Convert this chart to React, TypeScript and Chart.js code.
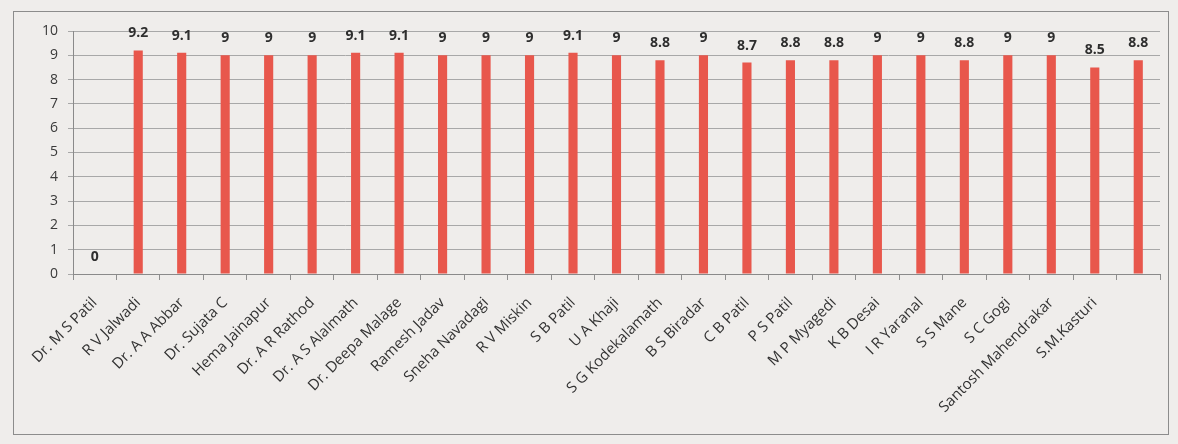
import { useEffect, useRef } from "react";
import { Chart, registerables } from "chart.js";

Chart.register(...registerables);

const categories: string[] = [
  "Dr. M S Patil",
  "R V Jalwadi",
  "Dr. A A Abbar",
  "Dr. Sujata C",
  "Hema Jainapur",
  "Dr. A R Rathod",
  "Dr. A S Alalmath",
  "Dr. Deepa Malage",
  "Ramesh Jadav",
  "Sneha Navadagi",
  "R V Miskin",
  "S B Patil",
  "U A Khaji",
  "S G Kodekalamath",
  "B S Biradar",
  "C B Patil",
  "P S Patil",
  "M P Myagedi",
  "K B Desai",
  "I R Yaranal",
  "S S Mane",
  "S C Gogi",
  "Santosh Mahendrakar",
  "S.M.Kasturi",
  "",
];

const scores: number[] = [
  0, 9.2, 9.1, 9, 9, 9, 9.1, 9.1, 9, 9, 9, 9.1, 9, 8.8, 9, 8.7, 8.8, 8.8, 9, 9,
  8.8, 9, 9, 8.5, 8.8,
];

const yMin = 0;
const yMax = 10;
const yStep = 1;

const FONT = "'Open Sans', 'Noto Sans', sans-serif";

const valueLabels = {
  id: "valueLabels",
  afterDatasetsDraw(chart: any) {
    const ctx = chart.ctx;
    const meta = chart.getDatasetMeta(0);
    ctx.save();
    ctx.font = `bold 14px ${FONT}`;
    ctx.fillStyle = "#2e2e2e";
    ctx.textAlign = "center";
    ctx.textBaseline = "middle";
    meta.data.forEach((bar: any, i: number) => {
      ctx.fillText(String(scores[i]), bar.x, bar.y - 17);
    });
    ctx.restore();
  },
};

export default function App() {
  const canvasRef = useRef<HTMLCanvasElement | null>(null);

  useEffect(() => {
    if (!canvasRef.current) return;
    const chart = new Chart(canvasRef.current, {
      type: "bar",
      data: {
        labels: categories,
        datasets: [
          {
            data: scores,
            backgroundColor: "#e8574c",
            borderWidth: 0,
            barPercentage: 0.21,
            categoryPercentage: 1,
          },
        ],
      },
      options: {
        animation: false,
        responsive: true,
        maintainAspectRatio: false,
        layout: { padding: { left: 23, top: 31, right: 18, bottom: 0 } },
        plugins: {
          legend: { display: false },
          tooltip: { enabled: false },
        },
        scales: {
          x: {
            grid: {
              display: true,
              drawOnChartArea: false,
              offset: true,
              tickLength: 6,
              color: "#8f8f8f",
            },
            border: { display: true, color: "#8a8a8a" },
            ticks: {
              autoSkip: false,
              minRotation: 45,
              maxRotation: 45,
              padding: 14,
              color: "#333333",
              font: { family: FONT, size: 15 },
            },
            afterFit: (s: any) => {
              s.height = 170;
            },
          },
          y: {
            min: yMin,
            max: yMax,
            ticks: {
              stepSize: yStep,
              padding: 10,
              color: "#3a3a3a",
              font: { family: FONT, size: 14 },
            },
            grid: { color: "#a8a8a8", tickLength: 5 },
            border: { display: true, color: "#8a8a8a" },
            afterFit: (s: any) => {
              s.width = 50;
            },
          },
        },
      },
      plugins: [valueLabels],
    });
    return () => chart.destroy();
  }, []);

  return (
    <div
      style={{
        position: "fixed",
        left: 0,
        top: 0,
        width: 1178,
        height: 444,
        background: "#efedeb",
      }}
    >
      <div
        style={{
          position: "absolute",
          left: 13,
          top: 11,
          width: 1156,
          height: 424,
          border: "1.5px solid #8c8c8c",
          boxSizing: "border-box",
        }}
      />
      <canvas
        ref={canvasRef}
        style={{ position: "absolute", left: 0, top: 0, width: 1178, height: 444 }}
      />
    </div>
  );
}
